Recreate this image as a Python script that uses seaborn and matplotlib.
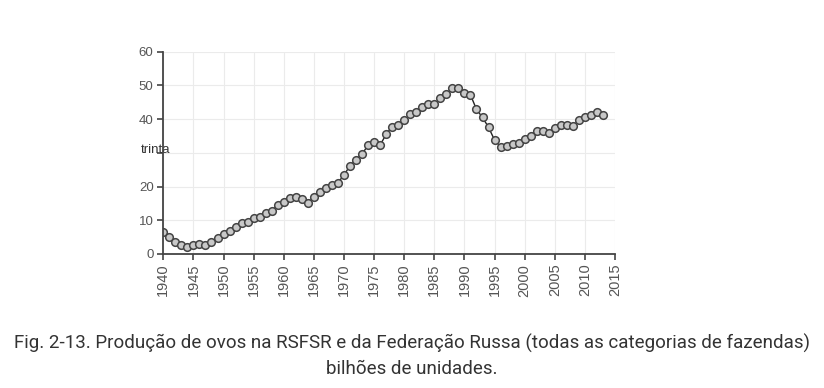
import numpy as np
import pandas as pd
import seaborn as sns
import matplotlib.pyplot as plt
import matplotlib.transforms as mtransforms

sns.set_theme(style="whitegrid")
plt.rcParams['font.family'] = ['Liberation Sans', 'DejaVu Sans']

# egg production, billions of units
years = list(range(1940, 2014))
eggs = [6.4, 4.9, 3.7, 2.7, 2.2, 2.8, 3.0, 2.7, 3.7, 4.8,
        5.9, 6.9, 8.1, 9.1, 9.6, 10.6, 11.1, 12.3, 12.8, 14.5,
        15.5, 16.5, 17.0, 16.2, 15.2, 16.8, 18.3, 19.5, 20.5, 21.2,
        23.4, 26.2, 27.9, 29.7, 32.2, 33.3, 32.3, 35.5, 37.8, 38.3,
        39.6, 41.5, 42.2, 43.7, 44.5, 44.5, 46.2, 47.5, 49.2, 49.2,
        47.7, 47.2, 42.9, 40.5, 37.6, 33.8, 31.8, 32.0, 32.6, 33.0,
        34.0, 35.0, 36.6, 36.6, 35.8, 37.3, 38.3, 38.3, 38.0, 39.6,
        40.7, 41.2, 42.2, 41.2]

x_ticks = list(range(1940, 2016, 5))
y_ticks = [0, 10, 20, 30, 40, 50, 60]
y_labels = ["0", "10", "20", "trinta", "40", "50", "60"]

caption = ("Fig. 2-13. Produção de ovos na RSFSR e da Federação Russa "
           "(todas as categorias de fazendas)\nbilhões de unidades.")

df = pd.DataFrame({"ano": years, "ovos": eggs})

fig = plt.figure(figsize=(8.24, 3.88), dpi=100)
ax = fig.add_axes([163.3 / 824, 1 - 254 / 388, (615 - 163.3) / 824, (254 - 51.7) / 388])

sns.lineplot(data=df, x="ano", y="ovos", ax=ax, color="#222222", lw=1.0,
             marker="o", markersize=5.5, markerfacecolor="#c8c8c8",
             markeredgecolor="#444444", markeredgewidth=1.1)

ax.set_xlim(1940, 2015)
ax.set_ylim(0, 60)
ax.set_xticks(x_ticks)
ax.set_xticklabels([str(t) for t in x_ticks], rotation=90)
ax.set_yticks(y_ticks)
ax.set_yticklabels(y_labels)
ax.set_xlabel("")
ax.set_ylabel("")

ax.grid(True, color="#ebebeb", lw=0.8)
for side in ["top", "right"]:
    ax.spines[side].set_visible(False)
for side in ["left", "bottom"]:
    ax.spines[side].set_color("#444444")
    ax.spines[side].set_linewidth(1.3)
ax.tick_params(axis="both", direction="out", length=4, width=1.2,
               color="#444444", labelcolor="#555555", pad=3)
ax.tick_params(axis="y", left=True, labelsize=9.5)
ax.tick_params(axis="x", bottom=True, labelsize=10.5)

# the odd "trinta" label sits over the axis in the original
for lab in ax.get_yticklabels():
    if lab.get_text() == "trinta":
        lab.set_horizontalalignment("center")
        lab.set_transform(lab.get_transform() + mtransforms.ScaledTranslation(
            0.02, 0.04, fig.dpi_scale_trans))
        lab.set_fontsize(9.5)
        lab.set_color("#333333")

fig.text(0.5, 1 - 356 / 388, caption, ha="center", va="center",
         fontsize=13.5, color="#333333", family="Roboto", linespacing=1.45)

fig.savefig("out.png", dpi=100)
